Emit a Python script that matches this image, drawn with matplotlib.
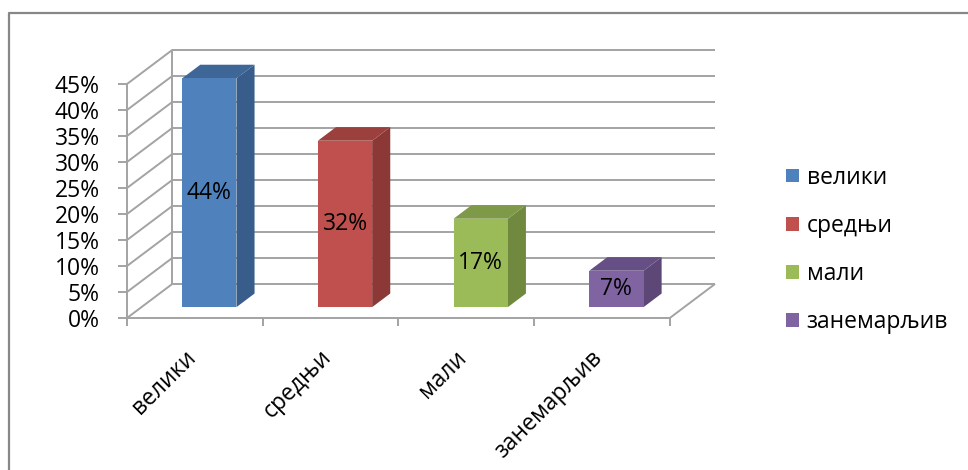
import matplotlib
matplotlib.use('Agg')
import matplotlib.pyplot as plt
from matplotlib.patches import Polygon, Patch
from matplotlib.lines import Line2D

# ---- data ----
categories = ['велики', 'средњи', 'мали', 'занемарљив']
values = [44, 32, 17, 7]
value_labels = ['44%', '32%', '17%', '7%']
y_ticks = [0, 5, 10, 15, 20, 25, 30, 35, 40, 45]
y_tick_labels = ['0%', '5%', '10%', '15%', '20%', '25%', '30%', '35%', '40%', '45%']

# ---- styles ----
front_colors = ['#4F81BD', '#C0504D', '#9BBB59', '#8064A2']
side_colors = ['#385D8A', '#8C3836', '#71893F', '#5C4776']
top_colors = ['#3E6797', '#9C403D', '#7E9947', '#664F84']
GRID = '#a3a3a3'
FS = 16.5

plt.rcParams['font.family'] = ['Open Sans', 'DejaVu Sans']

W, H = 968, 470
fig = plt.figure(figsize=(W / 100, H / 100), dpi=100)
ax = fig.add_axes([127 / W, (H - 318) / H, 588 / W, 268 / H])

n = len(categories)
OX = 45 / 135        # depth offset (category units)
OY = 34 / 5.2        # depth offset (percent units)
ymax = y_ticks[-1]
ax.set_xlim(0, n + OX)
ax.set_ylim(0, ymax + OY)
for s in ax.spines.values():
    s.set_visible(False)
ax.set_xticks([])
ax.set_yticks(y_ticks)
ax.set_yticklabels(y_tick_labels)
ax.tick_params(axis='y', length=6.5, width=1.4, color=GRID, pad=13, labelsize=FS)

lkw = dict(color=GRID, lw=1.4, solid_capstyle='butt', clip_on=False, zorder=1)
# walls / gridlines
for t in y_ticks:
    ax.plot([0, OX, n + OX], [t, t + OY, t + OY], **lkw)
ax.plot([0, 0], [0, ymax], **lkw)
ax.plot([OX, OX], [OY, ymax + OY], **lkw)
# floor
ax.plot([0, n, n + OX], [0, 0, OY], **lkw)
for i in range(n + 1):
    ax.plot([i, i], [0, -1.6], **lkw)

# bars
D0, D1, BW = 0.32, 0.72, 0.4
dx, dy = (D1 - D0) * OX, (D1 - D0) * OY
for i, v in enumerate(values):
    x0 = i + 0.5 - BW / 2 + D0 * OX
    x1 = x0 + BW
    y0 = D0 * OY
    y1 = y0 + v
    front = [(x0, y0), (x1, y0), (x1, y1), (x0, y1)]
    side = [(x1, y0), (x1 + dx, y0 + dy), (x1 + dx, y1 + dy), (x1, y1)]
    top = [(x0, y1), (x1, y1), (x1 + dx, y1 + dy), (x0 + dx, y1 + dy)]
    ax.add_patch(Polygon(side, closed=True, facecolor=side_colors[i], edgecolor='none', zorder=3))
    ax.add_patch(Polygon(top, closed=True, facecolor=top_colors[i], edgecolor='none', zorder=3))
    ax.add_patch(Polygon(front, closed=True, facecolor=front_colors[i], edgecolor='none', zorder=4))
    ax.text(x0 + BW / 2, y0 + v / 2, value_labels[i], ha='center', va='center',
            fontsize=FS, color='black', zorder=5)

# category labels
for i, c in enumerate(categories):
    ax.annotate(c, xy=(i + 0.5, 0), xytext=(-2, -26), textcoords='offset points',
                rotation=45, rotation_mode='anchor', ha='right', va='center',
                fontsize=FS, annotation_clip=False)

# legend
handles = [Patch(facecolor=c, edgecolor='none') for c in front_colors]
fig.legend(handles, categories, loc='center left', bbox_to_anchor=(786 / W, 1 - 250 / H),
           frameon=False, fontsize=FS, handlelength=0.55, handleheight=0.55,
           handletextpad=0.35, labelspacing=1.06, borderpad=0, borderaxespad=0)

# outer border (partially visible)
fig.add_artist(Line2D([9 / W, 9 / W, 1], [0, 1 - 13 / H, 1 - 13 / H],
                      transform=fig.transFigure, color='#878787', lw=1.6))

fig.savefig('out.png', dpi=100)
